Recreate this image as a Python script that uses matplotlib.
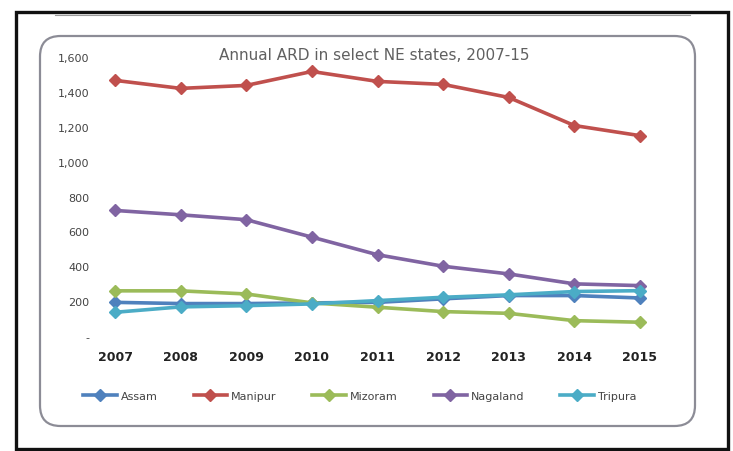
import matplotlib
matplotlib.use("Agg")
import matplotlib.pyplot as plt
from matplotlib.patches import FancyBboxPatch, Rectangle
from matplotlib.lines import Line2D

years = ["2007", "2008", "2009", "2010", "2011", "2012", "2013", "2014", "2015"]
assam = [193, 186, 186, 190, 193, 213, 232, 232, 218]
manipur = [1466, 1420, 1437, 1517, 1460, 1443, 1368, 1207, 1149]
mizoram = [259, 259, 241, 190, 165, 140, 130, 88, 79]
nagaland = [720, 695, 667, 567, 466, 400, 356, 299, 289]
tripura = [136, 167, 174, 184, 203, 222, 236, 255, 260]
series_names = ["Assam", "Manipur", "Mizoram", "Nagaland", "Tripura"]
colors = ["#4F81BD", "#C0504D", "#9BBB59", "#8064A2", "#4BACC6"]
yticks = [0, 200, 400, 600, 800, 1000, 1200, 1400, 1600]
ytick_labels = ["-", "200", "400", "600", "800", "1,000", "1,200", "1,400", "1,600"]
title = "Annual ARD in select NE states, 2007-15"

W, H = 733, 452
fig = plt.figure(figsize=(W / 100, H / 100), dpi=100)

def fx(px):
    return px / W

def fy(py):
    return 1 - py / H

# outer black frame
fig.patches.append(Rectangle((fx(16), fy(450)), fx(728) - fx(16), fy(13) - fy(450),
                             transform=fig.transFigure, fill=False, edgecolor="#111111",
                             linewidth=2.4, zorder=-2))
# faint grey line under top frame
fig.lines.append(Line2D([fx(55), fx(690)], [fy(16), fy(16)], transform=fig.transFigure,
                        color="#9a9a9a", linewidth=0.8, zorder=-2))
# rounded chart box
fig.patches.append(FancyBboxPatch((fx(40), fy(427)), fx(695) - fx(40), fy(37) - fy(427),
                                  boxstyle="round,pad=0,rounding_size=0.028",
                                  transform=fig.transFigure, facecolor="white",
                                  edgecolor="#8c8c96", linewidth=1.6, zorder=-1,
                                  mutation_aspect=W / H))

ax = fig.add_axes([fx(98), fy(337), fx(657) - fx(98), fy(58) - fy(337)])
ax.set_zorder(2)
ax.set_facecolor("none")
x = list(range(len(years)))
data = [assam, manipur, mizoram, nagaland, tripura]
for name, vals, c in zip(series_names, data, colors):
    ax.plot(x, vals, color=c, linewidth=2.6, marker="D", markersize=6.5,
            markeredgecolor=c, label=name)

ax.set_xlim(-0.26, len(years) - 1 + 0.26)
ax.set_ylim(0, 1600)
ax.set_xticks(x)
ax.set_xticklabels(years, fontsize=9, color="#222222", fontweight="bold")
ax.set_yticks(yticks)
ax.set_yticklabels(ytick_labels, fontsize=8, color="#444444")
ax.tick_params(axis="both", length=0)
ax.tick_params(axis="x", pad=10)
ax.tick_params(axis="y", pad=6)
for s in ax.spines.values():
    s.set_visible(False)

fig.text(fx(374), fy(55), title, ha="center", va="center", fontsize=11, color="#606060",
         zorder=3)

handles, labels = ax.get_legend_handles_labels()
leg = fig.legend(handles, labels, loc="center", bbox_to_anchor=(fx(360), fy(397)), ncol=5,
                 frameon=False, fontsize=8, labelcolor="#444444", handlelength=3.0,
                 columnspacing=3.2, handletextpad=0.4, markerscale=0.9)
leg.set_zorder(3)

fig.savefig("out.png", dpi=100)
